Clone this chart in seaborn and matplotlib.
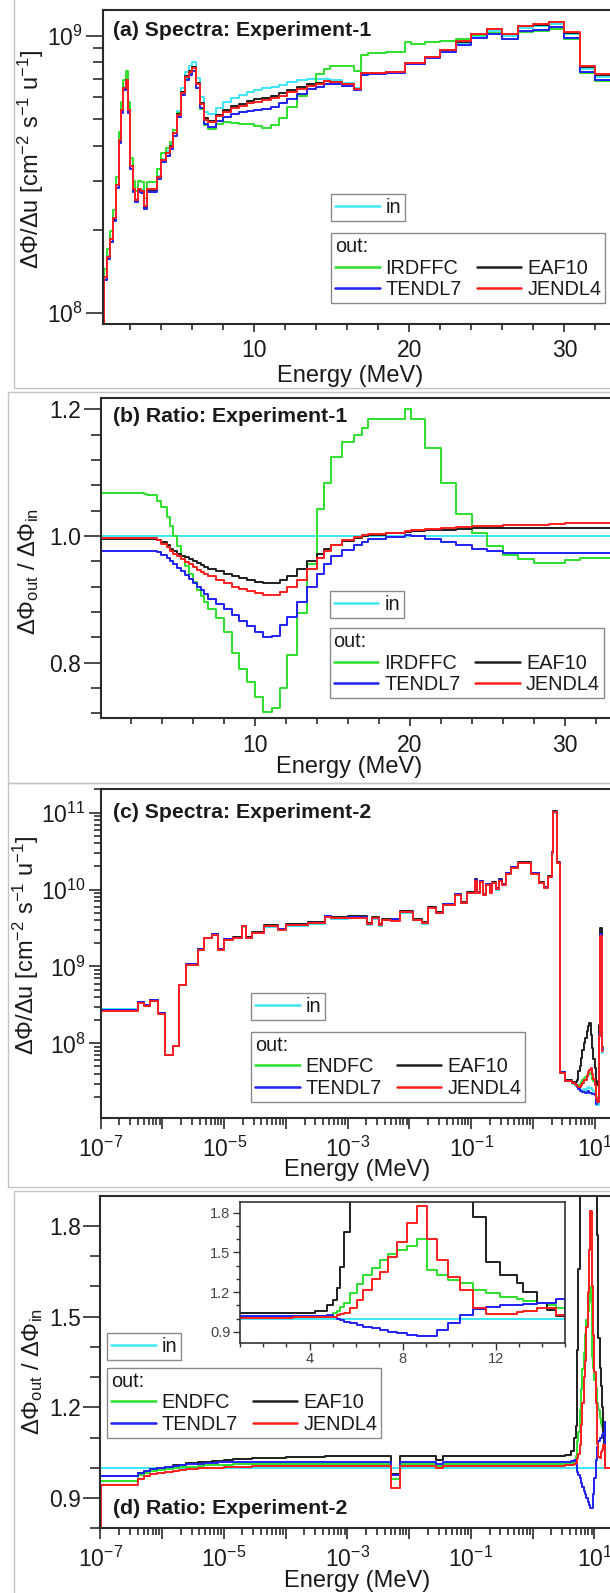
import numpy as np
import matplotlib
matplotlib.use("Agg")
import matplotlib.pyplot as plt
import seaborn as sns
from matplotlib.lines import Line2D
from matplotlib.patches import Rectangle
from matplotlib.ticker import (MultipleLocator, LogLocator, FixedLocator,
                               FuncFormatter, NullFormatter)

# ------------------------------------------------------------------ data
# Experiment-1 : group edges (MeV), input spectrum, out/in ratios (panel b)
E1_EDGES = [0.1, 0.3, 0.5, 0.7, 0.9, 1.1, 1.25, 1.4, 1.55, 1.7, 1.85, 2.0, 2.15, 2.3,
            2.5, 2.7, 2.85, 3.05, 3.7, 3.95, 4.3, 4.55, 4.75, 5.0, 5.25, 5.5, 5.75,
            6.0, 6.25, 6.5, 6.75, 7.0, 7.5, 8.0, 8.5, 9.0, 9.5, 10.0, 10.5, 11.1,
            11.6, 12.1, 12.75, 13.4, 14.0, 14.5, 14.9, 15.65, 16.4, 16.9, 17.3, 18.5,
            19.7, 20.1, 21.0, 22.0, 23.0, 24.0, 25.0, 26.0, 27.0, 28.0, 29.0, 30.0,
            31.0, 32.0, 35.0]
IN1 = [0.80e8, 1.35e8, 1.60e8, 1.85e8, 2.20e8, 2.90e8, 4.20e8, 5.40e8, 6.50e8, 6.95e8,
       5.40e8, 3.40e8, 2.80e8, 2.57e8, 2.80e8, 2.77e8, 2.43e8, 2.80e8, 3.12e8, 3.60e8,
       3.83e8, 4.07e8, 4.57e8, 5.35e8, 6.45e8, 7.40e8, 7.75e8, 8.05e8, 7.05e8, 6.00e8,
       5.30e8, 5.20e8, 5.50e8, 5.75e8, 5.95e8, 6.10e8, 6.25e8, 6.35e8, 6.45e8, 6.55e8,
       6.65e8, 6.80e8, 6.90e8, 6.95e8, 6.95e8, 7.00e8, 6.90e8, 6.75e8, 6.45e8, 7.30e8,
       7.30e8, 7.35e8, 7.90e8, 7.90e8, 8.30e8, 8.80e8, 9.40e8, 10.0e8, 10.4e8, 10.0e8,
       10.65e8, 10.8e8, 11.0e8, 10.1e8, 7.60e8, 7.10e8]
R1_IRDFFC = [1.068, 1.068, 1.068, 1.068, 1.068, 1.068, 1.068, 1.068, 1.068, 1.068,
             1.068, 1.068, 1.068, 1.068, 1.068, 1.068, 1.066, 1.064, 1.056, 1.045,
             1.030, 1.015, 1.000, 0.984, 0.968, 0.952, 0.940, 0.928, 0.915, 0.905,
             0.895, 0.885, 0.870, 0.848, 0.815, 0.790, 0.770, 0.745, 0.722, 0.728,
             0.760, 0.812, 0.878, 0.955, 1.042, 1.083, 1.125, 1.148, 1.160, 1.170,
             1.185, 1.185, 1.200, 1.185, 1.139, 1.083, 1.035, 1.005, 0.984, 0.970,
             0.963, 0.958, 0.958, 0.962, 0.965, 0.965]
R1_EAF10 = [0.996, 0.996, 0.996, 0.996, 0.996, 0.996, 0.996, 0.996, 0.996, 0.996,
            0.996, 0.996, 0.996, 0.996, 0.996, 0.996, 0.996, 0.996, 0.994, 0.990,
            0.985, 0.980, 0.976, 0.972, 0.969, 0.966, 0.963, 0.960, 0.957, 0.954,
            0.951, 0.948, 0.944, 0.940, 0.936, 0.933, 0.930, 0.927, 0.925, 0.925,
            0.930, 0.937, 0.948, 0.960, 0.972, 0.980, 0.986, 0.992, 0.997, 1.000,
            1.002, 1.004, 1.006, 1.008, 1.009, 1.010, 1.011, 1.012, 1.013, 1.013,
            1.013, 1.013, 1.013, 1.013, 1.013, 1.013]
R1_TENDL7 = [0.976, 0.976, 0.976, 0.976, 0.976, 0.976, 0.976, 0.976, 0.976, 0.976,
             0.976, 0.976, 0.976, 0.976, 0.976, 0.976, 0.976, 0.976, 0.974, 0.970,
             0.965, 0.960, 0.955, 0.950, 0.944, 0.938, 0.932, 0.926, 0.920, 0.914,
             0.908, 0.900, 0.892, 0.884, 0.875, 0.866, 0.857, 0.848, 0.841, 0.842,
             0.860, 0.872, 0.895, 0.920, 0.940, 0.955, 0.968, 0.978, 0.986, 0.990,
             0.996, 0.999, 1.001, 1.000, 0.996, 0.991, 0.986, 0.980, 0.976, 0.973,
             0.973, 0.973, 0.973, 0.973, 0.973, 0.973]
R1_JENDL4 = [0.997, 0.997, 0.997, 0.997, 0.997, 0.997, 0.997, 0.997, 0.997, 0.997,
             0.997, 0.997, 0.997, 0.997, 0.997, 0.997, 0.997, 0.997, 0.993, 0.988,
             0.982, 0.977, 0.972, 0.968, 0.963, 0.959, 0.955, 0.951, 0.947, 0.943,
             0.940, 0.936, 0.930, 0.925, 0.920, 0.916, 0.913, 0.910, 0.907, 0.907,
             0.912, 0.920, 0.930, 0.948, 0.965, 0.977, 0.985, 0.993, 0.998, 1.002,
             1.003, 1.005, 1.008, 1.009, 1.011, 1.012, 1.014, 1.015, 1.016, 1.017,
             1.018, 1.018, 1.019, 1.020, 1.020, 1.020]

# Experiment-2 : group edges (MeV), input spectrum, out/in ratios (panel d)
E2_EDGES = [1.0e-7, 1.02e-7, 4.07e-7, 5.01e-7, 6.31e-7, 8.32e-7, 1.12e-6, 1.48e-6,
            1.86e-6, 2.40e-6, 3.80e-6, 4.79e-6, 6.31e-6, 7.94e-6, 1.0e-5, 1.41e-5,
            1.91e-5, 2.24e-5, 2.82e-5, 4.47e-5, 7.41e-5, 1.0e-4, 2.24e-4, 4.27e-4,
            5.37e-4, 1.0e-3, 2.09e-3, 2.51e-3, 3.16e-3, 3.55e-3, 5.01e-3, 7.08e-3,
            1.12e-2, 1.58e-2, 2.0e-2, 2.69e-2, 3.55e-2, 5.50e-2, 6.92e-2, 8.51e-2,
            0.115, 0.126, 0.141, 0.158, 0.174, 0.200, 0.219, 0.251, 0.282, 0.316,
            0.363, 0.447, 0.562, 0.933, 1.26, 1.51, 1.78, 2.0, 2.14, 2.48, 2.69, 2.75,
            3.3, 4.24, 4.75, 5.0, 5.17, 5.31, 5.46, 5.74, 6.03, 6.31, 6.67, 7.03, 7.39,
            7.74, 8.17, 8.6, 9.03, 9.46, 9.96, 10.46, 11.03, 11.6, 12.17, 12.9, 13.2,
            13.8, 14.2, 14.6, 15.0, 20.0]
IN2 = [2.77e8, 2.77e8, 3.5e8, 3.15e8, 3.66e8, 2.46e8, 7.1e7, 9.2e7, 5.7e8, 1.05e9,
       1.64e9, 2.32e9, 2.57e9, 1.64e9, 2.2e9, 2.32e9, 3.3e9, 2.32e9, 2.7e9, 3.3e9,
       2.98e9, 3.4e9, 3.6e9, 4.4e9, 4.2e9, 4.3e9, 3.5e9, 4.2e9, 3.4e9, 4.0e9,
       4.2e9, 5.0e9, 4.0e9, 3.6e9, 5.7e9, 4.95e9, 6.3e9, 8.5e9, 6.6e9, 8.9e9,
       1.3e10, 9.0e9, 1.25e10, 8.5e9, 1.15e10, 9.0e9, 1.2e10, 1.0e10, 1.3e10, 1.15e10,
       1.6e10, 1.9e10, 2.2e10, 1.6e10, 1.2e10, 1.05e10, 1.45e10, 3.0e10, 1.0e11, 2.2e10,
       1.3e9,
       4.1e7, 3.2e7, 3.0e7, 2.9e7, 2.8e7, 2.7e7, 2.6e7, 2.6e7, 2.5e7, 2.5e7,
       2.5e7, 2.55e7, 2.5e7, 2.6e7, 2.7e7, 2.6e7, 2.6e7, 2.5e7, 2.4e7, 2.2e7,
       1.6e7, 1.6e7, 1.2e8, 2.4e9, 1.3e9, 7.5e7, np.nan, np.nan, np.nan, np.nan]
R2_ENDFC = [0.955, 0.955, 0.975, 0.982, 0.988, 0.993, 0.997, 1.000, 1.002, 1.004,
            1.006, 1.008, 1.009, 1.010, 1.011, 1.012, 1.012, 1.012, 1.012, 1.012,
            1.012, 1.012, 1.012, 1.012, 1.012, 1.012, 1.012, 1.012, 1.012, 1.012,
            0.963, 1.013, 1.013, 1.013, 1.013, 1.005, 1.013, 1.013, 1.013, 1.013,
            1.013, 1.013, 1.013, 1.013, 1.013, 1.013, 1.013, 1.013, 1.013, 1.013,
            1.013, 1.013, 1.013, 1.013, 1.013, 1.013, 1.013, 1.013, 1.013, 1.013,
            1.013,
            1.013, 1.013, 1.015, 1.020, 1.040, 1.060, 1.089, 1.120, 1.190, 1.260,
            1.328, 1.379, 1.442, 1.490, 1.520, 1.550, 1.598, 1.366, 1.330, 1.290,
            1.265, 1.215, 1.190, 1.165, 1.144, 1.135, 1.114, 1.100, 1.080, 1.000]
R2_EAF10 = [0.972, 0.972, 0.983, 0.990, 0.996, 1.000, 1.004, 1.008, 1.011, 1.015,
            1.018, 1.020, 1.022, 1.024, 1.026, 1.028, 1.029, 1.030, 1.032, 1.033,
            1.034, 1.036, 1.037, 1.038, 1.038, 1.038, 1.038, 1.038, 1.038, 1.038,
            0.980, 1.038, 1.038, 1.038, 1.038, 1.025, 1.038, 1.040, 1.038, 1.040,
            1.040, 1.040, 1.040, 1.040, 1.040, 1.040, 1.040, 1.040, 1.040, 1.040,
            1.040, 1.040, 1.040, 1.040, 1.040, 1.040, 1.040, 1.040, 1.040, 1.040,
            1.040,
            1.040, 1.042, 1.055, 1.100, 1.139, 1.227, 1.390, 1.656, 2.000, 2.600,
            3.300, 4.000, 4.700, 5.500, 6.300, 7.000, 5.000, 3.500, 2.600, 2.200,
            2.000, 1.770, 1.430, 1.330, 1.270, 1.200, 1.120, 1.064, 1.020, 1.000]
R2_TENDL7 = [0.972, 0.972, 0.983, 0.990, 0.995, 0.999, 1.003, 1.006, 1.009, 1.012,
             1.014, 1.016, 1.017, 1.018, 1.019, 1.019, 1.019, 1.019, 1.019, 1.019,
             1.019, 1.019, 1.019, 1.019, 1.019, 1.019, 1.019, 1.019, 1.019, 1.019,
             0.977, 1.019, 1.019, 1.019, 1.019, 1.012, 1.019, 1.019, 1.019, 1.019,
             1.019, 1.019, 1.019, 1.019, 1.019, 1.019, 1.019, 1.019, 1.019, 1.019,
             1.019, 1.019, 1.019, 1.019, 1.019, 1.019, 1.019, 1.019, 1.019, 1.019,
             1.019,
             1.020, 1.020, 1.022, 1.026, 1.013, 1.000, 0.985, 0.976, 0.965, 0.950,
             0.937, 0.925, 0.912, 0.900, 0.888, 0.877, 0.868, 0.868, 0.913, 0.968,
             1.026, 1.069, 1.089, 1.100, 1.100, 1.110, 1.114, 1.114, 1.150, 1.000]
R2_JENDL4 = [0.060, 0.944, 0.962, 0.972, 0.978, 0.983, 0.987, 0.990, 0.993, 0.996,
             0.998, 0.999, 1.000, 1.001, 1.002, 1.003, 1.004, 1.004, 1.005, 1.005,
             1.006, 1.006, 1.006, 1.006, 1.006, 1.006, 1.006, 1.006, 1.006, 1.006,
             0.933, 1.006, 1.006, 1.006, 1.006, 0.999, 1.006, 1.006, 1.006, 1.006,
             1.006, 1.006, 1.006, 1.006, 1.006, 1.006, 1.006, 1.006, 1.006, 1.006,
             1.006, 1.006, 1.006, 1.006, 1.006, 1.006, 1.006, 1.006, 1.006, 1.006,
             1.006,
             1.006, 1.008, 1.010, 1.013, 1.015, 1.025, 1.032, 1.045, 1.077, 1.140,
             1.215, 1.300, 1.354, 1.467, 1.580, 1.720, 1.850, 1.600, 1.440, 1.316,
             1.215, 1.080, 1.035, 1.034, 1.051, 1.060, 1.077, 1.077, 1.026, 1.000]
RATIO_IN = 1.0

PANEL_TITLES = ["(a) Spectra: Experiment-1", "(b) Ratio: Experiment-1",
                "(c) Spectra: Experiment-2", "(d) Ratio: Experiment-2"]
LIB1 = ["IRDFFC", "TENDL7", "EAF10", "JENDL4"]
LIB2 = ["ENDFC", "TENDL7", "EAF10", "JENDL4"]

C_IN, C_G, C_K, C_B, C_R = "#3EE6F4", "#2CE02C", "#1E1E1E", "#2020F2", "#FF1E1E"

# ------------------------------------------------------------------ style
sns.set_theme(style="ticks")
plt.rcParams["font.family"] = ["Liberation Sans", "DejaVu Sans"]
plt.rcParams["mathtext.fontset"] = "custom"
plt.rcParams["mathtext.rm"] = "Liberation Sans"
plt.rcParams["mathtext.it"] = "Liberation Sans:italic"
plt.rcParams["mathtext.bf"] = "Liberation Sans:bold"
plt.rcParams["text.color"] = "#1a1a1a"

W, H = 610, 1593
TICK_FS = 16.5
LAB_FS = 17
fig = plt.figure(figsize=(W / 100, H / 100), dpi=100)
fig.patch.set_facecolor("white")


def box(l, t, r, b):
    return [l / W, 1 - b / H, (r - l) / W, (b - t) / H]


def fx(x):
    return x / W


def fy(y):
    return 1 - y / H


# light grey frames of the four sub-figures
for (l, t, r, b) in [(14, -5, 700, 388), (8, 392, 700, 783), (8, 783, 700, 1187),
                     (13.6, 1190.7, 700, 1700)]:
    fig.add_artist(Rectangle((fx(l), fy(b)), (r - l) / W, (b - t) / H,
                             transform=fig.transFigure, fill=False,
                             ec="#c4c4c4", lw=1.0))


def steps(ax, edges, vals, color, lw=1.4, z=2):
    edges = np.asarray(edges, float)
    vals = np.asarray(vals, float)
    ok = np.where(np.isfinite(vals))[0]
    k = ok[-1]
    x = edges[:k + 2]
    y = np.append(vals[:k + 1], vals[k])
    sns.lineplot(x=x, y=y, ax=ax, color=color, linewidth=lw,
                 drawstyle="steps-post", estimator=None, sort=False,
                 legend=False, zorder=z)


def style_axes(ax, lsize, ymaj=9, ymin=5, xmaj=6, xmin=4):
    for sp in ax.spines.values():
        sp.set_linewidth(1.5)
        sp.set_color("#2b2b2b")
    ax.tick_params(which="both", direction="out", color="#2b2b2b", width=1.2,
                   top=False, right=False, labelcolor="#1a1a1a")
    ax.tick_params(axis="x", which="major", length=xmaj, pad=5, labelsize=lsize)
    ax.tick_params(axis="x", which="minor", length=xmin)
    ax.tick_params(axis="y", which="major", length=ymaj, pad=2, labelsize=lsize)
    ax.tick_params(axis="y", which="minor", length=ymin)
    ax.set_xlabel("")
    ax.set_ylabel("")
    ax.set_facecolor("white")


def legends(ax, in_xy, out_xy, libs):
    common = dict(loc="upper left", bbox_transform=fig.transFigure, frameon=True,
                  fancybox=False, framealpha=1, edgecolor="#8a8a8a",
                  fontsize=14.3, handlelength=2.25, handletextpad=0.3,
                  borderpad=0.2, borderaxespad=0)
    h_in = [Line2D([], [], color=C_IN, lw=1.8)]
    l1 = ax.legend(h_in, ["in"], bbox_to_anchor=(fx(in_xy[0]), fy(in_xy[1])), **common)
    l1.get_frame().set_linewidth(1.0)
    ax.add_artist(l1)
    h_out = [Line2D([], [], color=c, lw=1.8) for c in (C_G, C_B, C_K, C_R)]
    l2 = ax.legend(h_out, libs, ncol=2, title="out:", alignment="left",
                   title_fontsize=14.3, columnspacing=0.75, labelspacing=0.13,
                   bbox_to_anchor=(fx(out_xy[0]), fy(out_xy[1])), **common)
    l2.get_frame().set_linewidth(1.0)


def draw_set(ax, edges, base, ratios, spectra):
    base = np.asarray(base, float)
    order = [("in", C_IN), ("g", C_G), ("k", C_K), ("b", C_B), ("r", C_R)]
    for key, col in order:
        if key == "in":
            if spectra:
                steps(ax, edges, base, col)
            else:
                steps(ax, edges, np.full(len(edges) - 1, RATIO_IN), col)
        else:
            r = np.asarray(ratios[key], float)
            steps(ax, edges, base * r if spectra else r, col)


def odd_decades(v, pos):
    e = int(round(np.log10(v)))
    return f"$\\mathdefault{{10^{{{e}}}}}$" if e % 2 != 0 else ""


R1 = {"g": R1_IRDFFC, "k": R1_EAF10, "b": R1_TENDL7, "r": R1_JENDL4}
R2 = {"g": R2_ENDFC, "k": R2_EAF10, "b": R2_TENDL7, "r": R2_JENDL4}
YLAB_SPEC = "ΔΦ/Δu [cm$^{\\mathregular{-2}}$ s$^{\\mathregular{-1}}$ u$^{\\mathregular{-1}}$]"
YLAB_RAT = "ΔΦ$_{\\mathregular{out}}$ / ΔΦ$_{\\mathregular{in}}$"

# ------------------------------------------------------------------ (a)
ax_a = fig.add_axes(box(102.5, 10, 642, 324))
draw_set(ax_a, E1_EDGES, IN1, R1, True)
ax_a.set_yscale("log")
ax_a.set_xlim(0.2, 35)
ax_a.set_ylim(9.14e7, 1.236e9)
ax_a.xaxis.set_major_locator(MultipleLocator(10))
ax_a.xaxis.set_minor_locator(MultipleLocator(2))
ax_a.yaxis.set_major_locator(FixedLocator([1e8, 1e9]))
ax_a.yaxis.set_minor_locator(LogLocator(base=10, subs=np.arange(2, 10), numticks=20))
ax_a.yaxis.set_minor_formatter(NullFormatter())
style_axes(ax_a, TICK_FS, ymaj=12, ymin=7)
legends(ax_a, (331, 194), (331, 233), LIB1)

# ------------------------------------------------------------------ (b)
ax_b = fig.add_axes(box(100.7, 398, 642, 718.5))
draw_set(ax_b, E1_EDGES, IN1, R1, False)
ax_b.set_xlim(0.05, 35)
ax_b.set_ylim(0.7116, 1.218)
ax_b.xaxis.set_major_locator(MultipleLocator(10))
ax_b.xaxis.set_minor_locator(MultipleLocator(2))
ax_b.yaxis.set_major_locator(FixedLocator([0.8, 1.0, 1.2]))
ax_b.yaxis.set_minor_locator(MultipleLocator(0.04))
ax_b.yaxis.set_major_formatter(FuncFormatter(lambda v, p: f"{v:.1f}"))
style_axes(ax_b, TICK_FS, ymaj=12, ymin=7)
legends(ax_b, (329.6, 590.7), (329.6, 628.3), LIB1)

# ------------------------------------------------------------------ (c)
ax_c = fig.add_axes(box(100.7, 789, 625.6, 1118.3))
draw_set(ax_c, E2_EDGES, IN2, R2, True)
ax_c.set_xscale("log")
ax_c.set_yscale("log")
ax_c.set_xlim(1e-7, 10 ** 1.5)
ax_c.set_ylim(1.06e7, 2.03e11)
ax_c.yaxis.set_major_locator(FixedLocator([1e8, 1e9, 1e10, 1e11]))
ax_c.yaxis.set_minor_locator(LogLocator(base=10, subs=np.arange(2, 10), numticks=30))
ax_c.yaxis.set_minor_formatter(NullFormatter())
ax_c.xaxis.set_major_locator(FixedLocator([10.0 ** e for e in range(-7, 2)]))
ax_c.xaxis.set_major_formatter(FuncFormatter(odd_decades))
ax_c.xaxis.set_minor_locator(LogLocator(base=10, subs=np.arange(2, 10), numticks=30))
ax_c.xaxis.set_minor_formatter(NullFormatter())
style_axes(ax_c, TICK_FS, ymaj=9, ymin=5, xmaj=8, xmin=5)
legends(ax_c, (251, 993), (251, 1031.7), LIB2)

# ------------------------------------------------------------------ (d)
ax_d = fig.add_axes(box(100.4, 1196, 625.3, 1528.3))
draw_set(ax_d, E2_EDGES, IN2, R2, False)
ax_d.set_xscale("log")
ax_d.set_xlim(1e-7, 10 ** 1.5)
ax_d.set_ylim(0.80, 1.899)
ax_d.yaxis.set_major_locator(FixedLocator([0.9, 1.2, 1.5, 1.8]))
ax_d.yaxis.set_minor_locator(MultipleLocator(0.1))
ax_d.yaxis.set_major_formatter(FuncFormatter(lambda v, p: f"{v:.1f}"))
ax_d.xaxis.set_major_locator(FixedLocator([10.0 ** e for e in range(-7, 2)]))
ax_d.xaxis.set_major_formatter(FuncFormatter(odd_decades))
ax_d.xaxis.set_minor_locator(LogLocator(base=10, subs=np.arange(2, 10), numticks=30))
ax_d.xaxis.set_minor_formatter(NullFormatter())
style_axes(ax_d, TICK_FS, ymaj=12, ymin=7, xmaj=8, xmin=5)
legends(ax_d, (107, 1333.3), (107, 1367.7), LIB2)

# inset of (d)
ax_i = fig.add_axes(box(240, 1202.3, 565.3, 1342.7))
draw_set(ax_i, E2_EDGES, IN2, R2, False)
ax_i.set_xlim(1.0, 15.0)
ax_i.set_ylim(0.817, 1.879)
ax_i.xaxis.set_major_locator(FixedLocator([4, 8, 12]))
ax_i.xaxis.set_minor_locator(MultipleLocator(1))
ax_i.yaxis.set_major_locator(FixedLocator([0.9, 1.2, 1.5, 1.8]))
ax_i.yaxis.set_minor_locator(MultipleLocator(0.1))
ax_i.yaxis.set_major_formatter(FuncFormatter(lambda v, p: f"{v:.1f}"))
for sp in ax_i.spines.values():
    sp.set_linewidth(1.2)
    sp.set_color("#333333")
ax_i.tick_params(which="both", direction="out", color="#333333", width=1.0,
                 labelcolor="#444444", labelsize=10.5)
ax_i.tick_params(which="major", length=5, pad=2)
ax_i.tick_params(which="minor", length=3)
ax_i.set_xlabel("")
ax_i.set_ylabel("")
ax_i.set_facecolor("white")

# ------------------------------------------------------------------ texts
for (t, y) in zip(PANEL_TITLES, [30, 416, 812.7, 1508.3]):
    fig.text(fx(112.8), fy(y), t, fontsize=15.3, fontweight="bold",
             ha="left", va="center")
for (x, y) in [(350, 376), (349, 767), (357, 1170), (357, 1581.5)]:
    fig.text(fx(x), fy(y), "Energy (MeV)", fontsize=LAB_FS, ha="center", va="center")
fig.text(fx(31), fy(160), YLAB_SPEC, rotation=90, fontsize=LAB_FS, ha="center", va="center")
fig.text(fx(29), fy(572), YLAB_RAT, rotation=90, fontsize=LAB_FS, ha="center", va="center")
fig.text(fx(26), fy(946), YLAB_SPEC, rotation=90, fontsize=LAB_FS, ha="center", va="center")
fig.text(fx(33), fy(1372), YLAB_RAT, rotation=90, fontsize=LAB_FS, ha="center", va="center")

fig.savefig("out.png", dpi=100, facecolor="white")
